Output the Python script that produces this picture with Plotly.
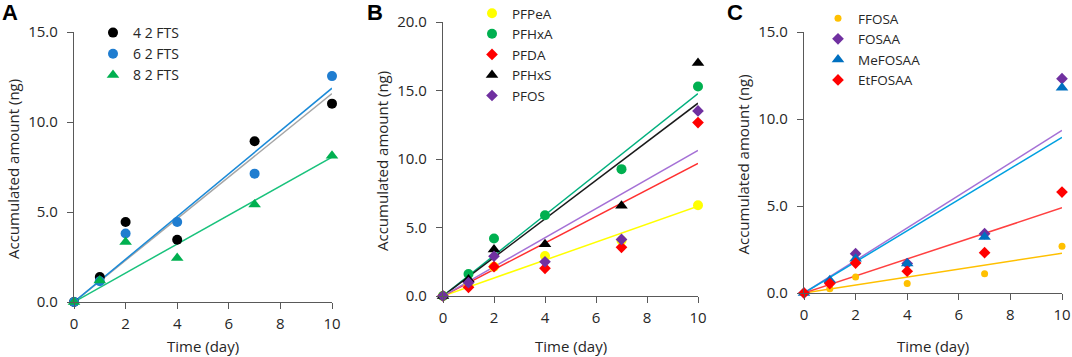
import numpy as np
import plotly.graph_objects as go

days = [0, 1, 2, 4, 7, 10]

# Panel A
a_names = ["4 2 FTS", "6 2 FTS", "8 2 FTS"]
a_fts4 = [0, 1.39, 4.44, 3.46, 8.93, 11.02]
a_fts6 = [0, 1.15, 3.81, 4.44, 7.13, 12.55]
a_fts8 = [0, 1.20, 3.33, 2.44, 5.42, 8.13]

# Panel B
b_names = ["PFPeA", "PFHxA", "PFDA", "PFHxS", "PFOS"]
b_pfpea = [0, 0.80, 2.14, 2.92, 4.05, 6.63]
b_pfhxa = [0, 1.60, 4.20, 5.90, 9.26, 15.29]
b_pfda = [0, 0.63, 2.14, 2.02, 3.55, 12.66]
b_pfhxs = [0, 1.20, 3.40, 3.77, 6.59, 17.00]
b_pfos = [0, 0.97, 2.90, 2.50, 4.13, 13.51]

# Panel C
c_names = ["FFOSA", "FOSAA", "MeFOSAA", "EtFOSAA"]
c_ffosa = [0, 0.25, 0.92, 0.54, 1.11, 2.68]
c_fosaa = [0, 0.63, 2.26, 1.69, 3.41, 12.32]
c_mefosaa = [0, 0.73, 1.97, 1.69, 3.22, 11.80]
c_etfosaa = [0, 0.54, 1.72, 1.25, 2.32, 5.80]

W, H = 1072, 357
FONT = "Open Sans"

fig = go.Figure()

def px(x):
    return x / W

def py(y):
    return 1 - y / H

panels = [
    ("", 74, 332, 32, 302, 15),
    ("2", 443, 698, 22, 296, 20),
    ("3", 804, 1062, 32, 293, 15),
]

def fit_slope(x, y):
    x = np.array(x, float); y = np.array(y, float)
    return float((x * y).sum() / (x * x).sum())

def add_series(ax, name, ys, mcolor, symbol, size, lcolor, legend):
    xa = "x" + ax
    ya = "y" + ax
    s = fit_slope(days, ys)
    fig.add_trace(go.Scatter(x=[0, 10], y=[0, s * 10], mode="lines",
                             line=dict(color=lcolor, width=1.5), showlegend=False,
                             xaxis=xa, yaxis=ya, hoverinfo="skip"))
    return dict(x=days, y=ys, mode="markers", name=name,
                marker=dict(color=mcolor, symbol=symbol, size=size, line=dict(width=0)),
                xaxis=xa, yaxis=ya, legend=legend, cliponaxis=False)

marks = []
marks.append(add_series("", a_names[0], a_fts4, "#000000", "circle", 10, "#a6a6a6", "legend"))
marks.append(add_series("", a_names[1], a_fts6, "#1f7dd0", "circle", 10, "#1a8ad8", "legend"))
marks.append(add_series("", a_names[2], a_fts8, "#00b050", "triangle-up", 11, "#19c27c", "legend"))

marks.append(add_series("2", b_names[0], b_pfpea, "#ffff00", "circle", 10, "#ffff00", "legend2"))
marks.append(add_series("2", b_names[1], b_pfhxa, "#00b050", "circle", 10, "#00b07e", "legend2"))
marks.append(add_series("2", b_names[2], b_pfda, "#ff0000", "diamond", 9, "#ff3030", "legend2"))
marks.append(add_series("2", b_names[3], b_pfhxs, "#000000", "triangle-up", 11, "#1a1a1a", "legend2"))
marks.append(add_series("2", b_names[4], b_pfos, "#7030a0", "diamond", 9, "#a571d6", "legend2"))

marks.append(add_series("3", c_names[0], c_ffosa, "#ffc000", "circle", 7, "#ffc000", "legend3"))
marks.append(add_series("3", c_names[1], c_fosaa, "#7030a0", "diamond", 9, "#a571d6", "legend3"))
marks.append(add_series("3", c_names[2], c_mefosaa, "#0070c0", "triangle-up", 11, "#00a0e0", "legend3"))
marks.append(add_series("3", c_names[3], c_etfosaa, "#ff0000", "diamond", 9, "#ff4040", "legend3"))

for m in marks:
    fig.add_trace(go.Scatter(**m))

layout = dict(
    width=W, height=H, margin=dict(l=0, r=0, t=0, b=0, autoexpand=False),
    paper_bgcolor="white", plot_bgcolor="white",
    font=dict(family=FONT, size=15, color="#262626"),
)

axis_common = dict(showgrid=False, zeroline=False, showline=True, linecolor="#595959",
                   linewidth=1.2, ticks="outside", ticklen=6, tickcolor="#595959",
                   automargin=False,
                   tickfont=dict(family=FONT, size=15, color="#262626"))

annotations = []
for (ax, x0, x1, yt, yb, ymax), letter in zip(panels, ["A", "B", "C"]):
    xk = "xaxis" + ax
    yk = "yaxis" + ax
    layout[xk] = dict(axis_common, domain=[px(x0), px(x1)], range=[0, 10],
                      tickvals=[0, 2, 4, 6, 8, 10], ticktext=["0", "2", "4", "6", "8", "10"],
                      anchor="y" + ax, ticklabelstandoff=2)
    yvals = list(range(0, ymax + 1, 5))
    layout[yk] = dict(axis_common, domain=[py(yb), py(yt)], range=[0, ymax],
                      tickvals=yvals, ticktext=[f"{v:.1f}" for v in yvals],
                      anchor="x" + ax, ticklabelstandoff=6)
    annotations.append(dict(text="Time (day)", x=px((x0 + x1) / 2), y=py(346),
                            xref="paper", yref="paper", showarrow=False,
                            xanchor="center", yanchor="middle",
                            font=dict(family=FONT, size=15, color="#262626")))
    annotations.append(dict(text="Accumulated amount (ng)", x=px(x0 - 61), y=py((yt + yb) / 2 + 2),
                            xref="paper", yref="paper", showarrow=False, textangle=-90,
                            xanchor="center", yanchor="middle",
                            font=dict(family=FONT, size=15, color="#262626")))

letters = [("A", 10), ("B", 375), ("C", 735)]
for t, lx in letters:
    annotations.append(dict(text=f"<b>{t}</b>", x=px(lx), y=py(13), xref="paper", yref="paper",
                            showarrow=False, xanchor="center", yanchor="middle",
                            font=dict(family="Liberation Sans", size=22, color="black")))

layout["annotations"] = annotations

leg_common = dict(bgcolor="rgba(0,0,0,0)", xanchor="left", yanchor="top",
                  itemclick=False, tracegroupgap=0)
layout["legend"] = dict(leg_common, x=px(93), y=py(17),
                        font=dict(family=FONT, size=14, color="#262626"))
layout["legend2"] = dict(leg_common, x=px(472), y=py(-2),
                         font=dict(family=FONT, size=13.5, color="#262626"))
layout["legend3"] = dict(leg_common, x=px(818), y=py(3),
                         font=dict(family=FONT, size=13.5, color="#262626"))

fig.update_layout(**layout)
fig.write_html("out.html", config={"displayModeBar": False},
               post_script="document.body.style.margin='0px';")
